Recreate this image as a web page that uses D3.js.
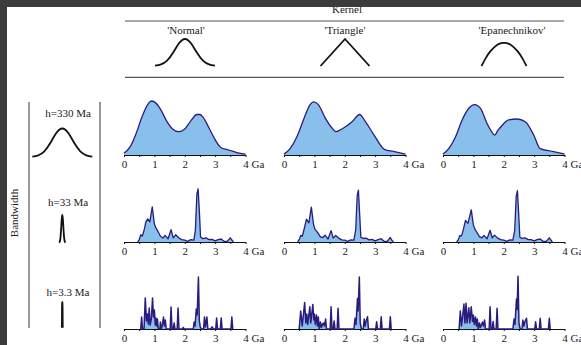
<!DOCTYPE html>
<html>
<head>
<meta charset="utf-8">
<script src="https://cdn.jsdelivr.net/npm/d3@7"></script>
<style>
  body { margin: 0; background: #fff; }
  svg { display: block; font-family: "Liberation Serif", "DejaVu Serif", serif; }
</style>
</head>
<body>
<script>
// ---- labels ----
const kernelNames = ["'Normal'", "'Triangle'", "'Epanechnikov'"];
const bandwidthLabels = ["h=330 Ma", "h=33 Ma", "h=3.3 Ma"];
const bandwidthMa = [330, 33, 3.3];
const ageTicks = [0, 0.5, 1, 1.5, 2, 2.5, 3, 3.5, 4];
const ageLabels = { 0: "0", 1: "1", 2: "2", 3: "3", 4: "4 Ga" };

// ---- kernel shapes [u, relative height] ----
const normalShape = [[-3, 0.01], [-2.4, 0.06], [-1.8, 0.2], [-1.2, 0.49], [-0.6, 0.84], [0, 1],
  [0.6, 0.84], [1.2, 0.49], [1.8, 0.2], [2.4, 0.06], [3, 0.01]];
const triangleShape = [[-2.45, 0], [0, 1], [2.45, 0]];
const epanShape = [[-2.25, 0], [-1.8, 0.31], [-1.35, 0.55], [-0.9, 0.72], [-0.45, 0.83], [0, 0.86],
  [0.45, 0.83], [0.9, 0.72], [1.35, 0.55], [1.8, 0.31], [2.25, 0]];

// ---- densities [age Ga, density] ----
// h = 330 Ma
const d330Normal = [[0, 0.02], [0.2, 0.09], [0.4, 0.24], [0.6, 0.43], [0.8, 0.57], [0.9, 0.6], [1.0, 0.59],
  [1.2, 0.51], [1.4, 0.38], [1.6, 0.29], [1.8, 0.26], [2.0, 0.29], [2.2, 0.38], [2.4, 0.45], [2.5, 0.45],
  [2.6, 0.42], [2.8, 0.3], [3.0, 0.17], [3.2, 0.08], [3.4, 0.06], [3.6, 0.04], [3.8, 0.02], [4.0, 0.01]];
const d330Triangle = [[0, 0.01], [0.2, 0.07], [0.42, 0.2], [0.64, 0.39], [0.86, 0.56], [0.97, 0.59],
  [1.13, 0.56], [1.36, 0.41], [1.58, 0.3], [1.71, 0.26], [1.96, 0.3], [2.24, 0.37], [2.49, 0.45],
  [2.68, 0.37], [2.95, 0.23], [3.32, 0.06], [3.6, 0.04], [4.0, 0.01]];
const d330Epan = [[0, 0.01], [0.19, 0.07], [0.41, 0.2], [0.63, 0.39], [0.85, 0.52], [1.04, 0.56],
  [1.23, 0.52], [1.45, 0.35], [1.6, 0.26], [1.7, 0.22], [1.8, 0.27], [1.95, 0.33], [2.16, 0.39], [2.44, 0.4],
  [2.71, 0.37], [2.99, 0.22], [3.2, 0.07], [3.6, 0.04], [4.0, 0.01]];

// h = 33 Ma
const d33Normal = [[0.45, 0], [0.5, 0.07], [0.55, 0.24], [0.6, 0.2], [0.63, 0.28], [0.68, 0.47], [0.72, 0.67],
  [0.78, 0.77], [0.85, 0.67], [0.93, 1.17], [1.0, 0.6], [1.05, 0.47], [1.1, 0.39], [1.2, 0.19], [1.28, 0.13],
  [1.35, 0.22], [1.45, 0.11], [1.55, 0.41], [1.62, 0.14], [1.7, 0.24], [1.8, 0.14], [1.9, 0.08], [2.0, 0.06],
  [2.1, 0.02], [2.2, 0.08], [2.3, 0.06], [2.35, 0.39], [2.4, 1.6], [2.44, 1.77], [2.48, 1.06], [2.52, 0.17],
  [2.6, 0.11], [2.7, 0.14], [2.8, 0.08], [2.9, 0.09], [3.0, 0.04], [3.1, 0.08], [3.2, 0.1], [3.3, 0.02],
  [3.4, 0.02], [3.5, 0.14], [3.55, 0.07], [3.6, 0]];
const d33Triangle = [[0.45, 0], [0.5, 0.08], [0.55, 0.22], [0.6, 0.19], [0.63, 0.3], [0.68, 0.5], [0.74, 0.76],
  [0.82, 0.64], [0.9, 1.16], [0.97, 0.6], [1.02, 0.42], [1.1, 0.33], [1.2, 0.17], [1.28, 0.15],
  [1.35, 0.23], [1.45, 0.1], [1.55, 0.38], [1.62, 0.13], [1.7, 0.22], [1.8, 0.13], [1.9, 0.07], [2.0, 0.06],
  [2.1, 0.02], [2.2, 0.07], [2.3, 0.06], [2.36, 0.4], [2.41, 1.55], [2.45, 1.73], [2.49, 0.95], [2.53, 0.16],
  [2.6, 0.12], [2.7, 0.13], [2.8, 0.07], [2.9, 0.09], [3.0, 0.04], [3.1, 0.08], [3.2, 0.11], [3.3, 0.02],
  [3.4, 0.02], [3.5, 0.15], [3.55, 0.06], [3.6, 0]];
const d33Epan = [[0.45, 0], [0.5, 0.07], [0.55, 0.21], [0.6, 0.2], [0.63, 0.27], [0.68, 0.46], [0.74, 0.72],
  [0.82, 0.62], [0.93, 1.07], [1.0, 0.57], [1.05, 0.43], [1.1, 0.35], [1.2, 0.18], [1.28, 0.14],
  [1.35, 0.22], [1.45, 0.11], [1.55, 0.39], [1.62, 0.14], [1.7, 0.23], [1.8, 0.13], [1.9, 0.08], [2.0, 0.06],
  [2.1, 0.02], [2.2, 0.07], [2.3, 0.06], [2.36, 0.38], [2.41, 1.52], [2.45, 1.71], [2.49, 0.97], [2.53, 0.16],
  [2.6, 0.12], [2.7, 0.14], [2.8, 0.08], [2.9, 0.08], [3.0, 0.04], [3.1, 0.08], [3.2, 0.1], [3.3, 0.02],
  [3.4, 0.02], [3.5, 0.14], [3.55, 0.07], [3.6, 0]];

// h = 3.3 Ma
const d3Normal = [[0.55, 0], [0.58, 4], [0.61, 0], [0.66, 0], [0.7, 10.3], [0.74, 2.7], [0.77, 5], [0.8, 1.7],
  [0.83, 7], [0.86, 1.3], [0.9, 3.3], [0.94, 10.3], [0.97, 4], [1.0, 6.3], [1.03, 1.3], [1.05, 3.7], [1.08, 1],
  [1.1, 3.3], [1.13, 0], [1.18, 0], [1.2, 2.3], [1.23, 0], [1.27, 1.7], [1.3, 4], [1.33, 1], [1.36, 3],
  [1.39, 0], [1.52, 0], [1.55, 7.3], [1.58, 0], [1.62, 0], [1.65, 2], [1.68, 0], [1.75, 0], [1.78, 7],
  [1.81, 0], [1.92, 0], [1.95, 0.5], [1.98, 0], [2.28, 0], [2.31, 2.3], [2.34, 1], [2.38, 6.7], [2.41, 4.7],
  [2.45, 17.3], [2.48, 2.7], [2.51, 0.7], [2.55, 0], [2.62, 0], [2.65, 4], [2.68, 0.7], [2.71, 2.7], [2.73, 4],
  [2.76, 0], [2.85, 0], [2.9, 0.7], [2.95, 0], [3.02, 0], [3.05, 3.7], [3.08, 0], [3.17, 0], [3.2, 3.7],
  [3.23, 0], [3.52, 0], [3.55, 4], [3.58, 0]];
const d3Triangle = [[0.5, 0], [0.55, 6], [0.6, 1], [0.68, 8.8], [0.72, 2], [0.75, 5], [0.78, 1.5], [0.85, 7.4],
  [0.88, 2], [0.95, 8.2], [0.98, 3], [1.0, 5], [1.03, 1.5], [1.07, 4.7], [1.1, 1], [1.13, 4], [1.16, 0],
  [1.2, 2.3], [1.23, 0.5], [1.27, 1.7], [1.3, 2], [1.33, 1], [1.37, 3.3], [1.4, 0], [1.52, 0], [1.55, 7.4],
  [1.58, 0], [1.62, 0], [1.65, 2.7], [1.68, 0], [1.75, 0], [1.78, 6.9], [1.81, 0], [2.3, 0], [2.34, 3.6],
  [2.37, 1.5], [2.42, 10.2], [2.44, 6], [2.48, 17.3], [2.51, 2], [2.55, 0], [2.61, 0], [2.64, 3.3],
  [2.67, 1], [2.7, 2.5], [2.75, 4.1], [2.78, 0], [3.02, 0], [3.05, 2.4], [3.08, 0], [3.17, 0], [3.2, 4.1],
  [3.23, 0], [3.47, 0], [3.5, 4.1], [3.53, 0]];
const d3Epan = [[0.53, 0], [0.57, 6], [0.61, 1], [0.69, 8.3], [0.72, 2], [0.76, 8.6], [0.79, 2], [0.85, 7.1],
  [0.88, 2], [0.93, 7.4], [0.97, 2.5], [1.0, 4.7], [1.03, 1.5], [1.07, 4], [1.1, 1], [1.13, 3.3], [1.16, 0],
  [1.2, 2], [1.23, 0.5], [1.27, 1.5], [1.3, 2.3], [1.33, 1], [1.37, 3], [1.4, 0], [1.52, 0], [1.55, 7.4],
  [1.58, 0], [1.62, 0], [1.65, 2.5], [1.68, 0], [1.75, 0], [1.78, 6.9], [1.81, 0], [2.3, 0], [2.34, 3.3],
  [2.37, 1.5], [2.42, 10], [2.44, 6.5], [2.47, 17.6], [2.5, 2], [2.54, 0], [2.6, 0], [2.63, 3], [2.66, 1],
  [2.7, 2.5], [2.75, 3.6], [2.78, 0], [3.02, 0], [3.05, 2.4], [3.08, 0], [3.17, 0], [3.2, 3.6], [3.23, 0],
  [3.47, 0], [3.5, 3.6], [3.53, 0]];

const densities = [
  [d330Normal, d330Triangle, d330Epan],
  [d33Normal, d33Triangle, d33Epan],
  [d3Normal, d3Triangle, d3Epan]
];
const rowMax = [0.6, 1.8, 18];

// ---- layout ----
const width = 581, height = 345;
const colLeft = [124, 284, 443];
const panelWidth = 121.5;
const rowBase = [155, 242, 329];
const peakPx = 54;
const fillColor = "#88bfeb";
const strokeColor = "#2a1c7c";
const textColor = "#1a1a1a";

const svg = d3.select("body").append("svg")
  .attr("width", width)
  .attr("height", height)
  .attr("viewBox", [0, 0, width, height]);

svg.append("rect").attr("width", width).attr("height", height).attr("fill", "#fff");

// header
svg.append("text")
  .attr("x", 347).attr("y", 13)
  .attr("text-anchor", "middle")
  .attr("font-size", 11)
  .attr("fill", textColor)
  .text("Kernel");

svg.append("g")
  .attr("stroke", "#555")
  .attr("stroke-width", 1.2)
  .selectAll("line")
  .data([21, 77.3])
  .join("line")
  .attr("x1", 125).attr("x2", 564)
  .attr("y1", d => d).attr("y2", d => d);

const headerCenters = [185, 345, 504];
const headerTextX = [186, 345, 512];
const shapes = [normalShape, triangleShape, epanShape];
const iconY = d3.scaleLinear().domain([0, 1]).range([66, 39]);

kernelNames.forEach((name, i) => {
  svg.append("text")
    .attr("x", headerTextX[i]).attr("y", 34)
    .attr("text-anchor", "middle")
    .attr("font-size", 11)
    .attr("fill", textColor)
    .text(name);

  const ix = d3.scaleLinear().domain([-1, 1]).range([headerCenters[i] - 10, headerCenters[i] + 10]);
  svg.append("path")
    .datum(shapes[i])
    .attr("fill", "none")
    .attr("stroke", "#111")
    .attr("stroke-width", 1.8)
    .attr("d", d3.line().x(d => ix(d[0])).y(d => iconY(d[1]))
      .curve(i === 1 ? d3.curveLinear : d3.curveNatural));
});

// left bandwidth panel
svg.append("g")
  .attr("stroke", "#555")
  .attr("stroke-width", 1.2)
  .selectAll("line")
  .data([29, 100])
  .join("line")
  .attr("x1", d => d).attr("x2", d => d)
  .attr("y1", 102).attr("y2", 328);

svg.append("text")
  .attr("transform", "translate(17.5,213) rotate(-90)")
  .attr("text-anchor", "middle")
  .attr("font-size", 11)
  .attr("fill", textColor)
  .text("Bandwidth");

const bwLabelY = [117, 205.5, 295.5];
const bwIconTop = [128.5, 215, 302];
const bwIconBase = [157, 243, 328];
bandwidthLabels.forEach((lab, r) => {
  svg.append("text")
    .attr("x", 68).attr("y", bwLabelY[r])
    .attr("text-anchor", "middle")
    .attr("font-size", 11)
    .attr("fill", textColor)
    .text(lab);

  // icon width follows the bandwidth: 10 px per sigma at 330 Ma
  const k = bandwidthMa[r] / 33;
  const ix = d3.scaleLinear().domain([-1, 1]).range([62.3 - k, 62.3 + k]);
  const iy = d3.scaleLinear().domain([0, 1]).range([bwIconBase[r], bwIconTop[r]]);
  svg.append("path")
    .datum(normalShape)
    .attr("fill", "none")
    .attr("stroke", "#111")
    .attr("stroke-width", r === 2 ? 2.2 : 1.8)
    .attr("d", d3.line().x(d => ix(d[0])).y(d => iy(d[1])).curve(d3.curveNatural));
});

// density panels
densities.forEach((row, r) => {
  const y = d3.scaleLinear().domain([0, rowMax[r]]).range([rowBase[r], rowBase[r] - peakPx]);
  row.forEach((series, c) => {
    const x = d3.scaleLinear().domain([0, 4]).range([colLeft[c], colLeft[c] + panelWidth]);
    const curve = r === 0 ? d3.curveMonotoneX : d3.curveLinear;

    const g = svg.append("g");

    const axis = g.append("g")
      .attr("transform", `translate(0,${rowBase[r]})`)
      .call(d3.axisBottom(x)
        .tickValues(ageTicks)
        .tickSize(2)
        .tickSizeOuter(0)
        .tickFormat(d => ageLabels[d] ?? ""));
    axis.select(".domain").attr("stroke", "#111").attr("stroke-width", 1.1);
    axis.selectAll(".tick line").attr("stroke", "#111");
    axis.selectAll(".tick text")
      .attr("font-family", "Liberation Serif, DejaVu Serif, serif")
      .attr("font-size", 11)
      .attr("fill", textColor);
    axis.selectAll(".tick text").filter(d => d === 4)
      .attr("text-anchor", "start")
      .attr("x", -2.8);

    g.append("path")
      .datum(series)
      .attr("fill", fillColor)
      .attr("d", d3.area().x(d => x(d[0])).y0(y(0)).y1(d => y(d[1])).curve(curve));

    g.append("path")
      .datum(series)
      .attr("fill", "none")
      .attr("stroke", strokeColor)
      .attr("stroke-width", r === 2 ? 1.5 : 1.3)
      .attr("stroke-linejoin", "round")
      .attr("d", d3.line().x(d => x(d[0])).y(d => y(d[1])).curve(curve));
  });
});

// dark frame of the screenshot
svg.append("rect").attr("x", 0).attr("y", 0).attr("width", width).attr("height", 7).attr("fill", "#3c3c3c");
svg.append("rect").attr("x", 0).attr("y", 0).attr("width", 7).attr("height", height).attr("fill", "#3c3c3c");
</script>
</body>
</html>
